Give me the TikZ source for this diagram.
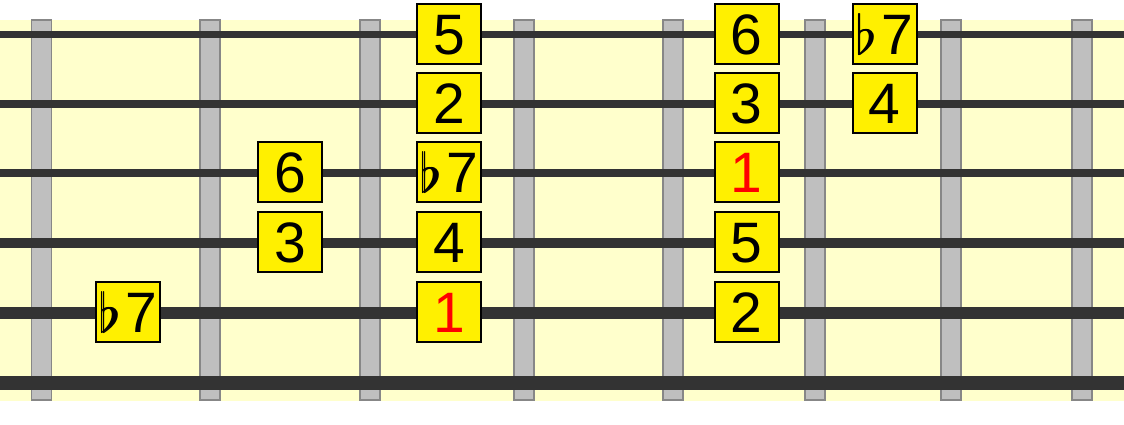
\documentclass[tikz,border=0pt]{standalone}
\usepackage{amsmath}
\usepackage{fontspec}
\setmainfont{Liberation Sans}
\usepackage{tikz}
\usetikzlibrary{arrows}
\definecolor{ffffcc}{rgb}{1,1,0.8}
\definecolor{qqqqqq}{rgb}{0.2,0.2,0.2}
\definecolor{cccccc}{rgb}{0.75,0.75,0.75}
\definecolor{wwwwww}{rgb}{0.53,0.53,0.53}
\definecolor{ffeeqq}{rgb}{1,0.94,0}
\definecolor{ffqqqq}{rgb}{1,0,0}
\newcommand{\flglyph}{\resizebox{!}{41pt}{$\flat$}}
\newcommand{\fl}{\rlap{\flglyph}\hspace{1.2pt}\flglyph\hspace{4.5pt}}

\begin{document}
\begin{tikzpicture}[line cap=butt,line join=miter,x=1pt,y=-1pt,
  degree/.style={draw=black,line width=2pt,fill=ffeeqq,inner sep=0pt,minimum width=64pt,minimum height=60pt,text height=41pt,text depth=0pt,font=\fontsize{57}{57}\selectfont},
  root/.style={degree,text=ffqqqq}]

\useasboundingbox (0,0) rectangle (1124,424);
\fill [color=ffffcc] (0,20) rectangle (1124,401);
% frets
\draw [color=wwwwww,fill=cccccc,line width=1.5pt] (31.5,20) rectangle (51.5,400);
\draw [color=wwwwww,fill=cccccc,line width=1.5pt] (200,20) rectangle (220,400);
\draw [color=wwwwww,fill=cccccc,line width=1.5pt] (360,20) rectangle (380,400);
\draw [color=wwwwww,fill=cccccc,line width=1.5pt] (514,20) rectangle (534,400);
\draw [color=wwwwww,fill=cccccc,line width=1.5pt] (663,20) rectangle (683,400);
\draw [color=wwwwww,fill=cccccc,line width=1.5pt] (805,20) rectangle (825,400);
\draw [color=wwwwww,fill=cccccc,line width=1.5pt] (941,20) rectangle (961,400);
\draw [color=wwwwww,fill=cccccc,line width=1.5pt] (1072,20) rectangle (1092,400);
% strings
\draw [color=qqqqqq,line width=7pt] (0,34.5) -- (1124,34.5);
\draw [color=qqqqqq,line width=7.5pt] (0,104) -- (1124,104);
\draw [color=qqqqqq,line width=8.5pt] (0,173) -- (1124,173);
\draw [color=qqqqqq,line width=10pt] (0,243) -- (1124,243);
\draw [color=qqqqqq,line width=12pt] (0,313) -- (1124,313);
\draw [color=qqqqqq,line width=14pt] (0,383) -- (1124,383);
% degrees
\node [degree] (sa5) at (449,34) {5};
\node [degree] (sa6) at (746.5,34) {6};
\node [degree] (sa7) at (884.5,34) {\fl7};
\node [degree] (sb2) at (449,103) {2};
\node [degree] (sb3) at (746.5,103) {3};
\node [degree] (sb4) at (884.5,103) {4};
\node [degree] (sc6) at (290,172) {6};
\node [degree] (sc7) at (449,172) {\fl7};
\node [root] (sc1) at (746.5,172) {1};
\node [degree] (sd3) at (290,242) {3};
\node [degree] (sd4) at (449,242) {4};
\node [degree] (sd5) at (746.5,242) {5};
\node [degree] (se7) at (128,312) {\fl7};
\node [root] (se1) at (449,312) {1};
\node [degree] (se2) at (746.5,312) {2};

\end{tikzpicture}
\end{document}
